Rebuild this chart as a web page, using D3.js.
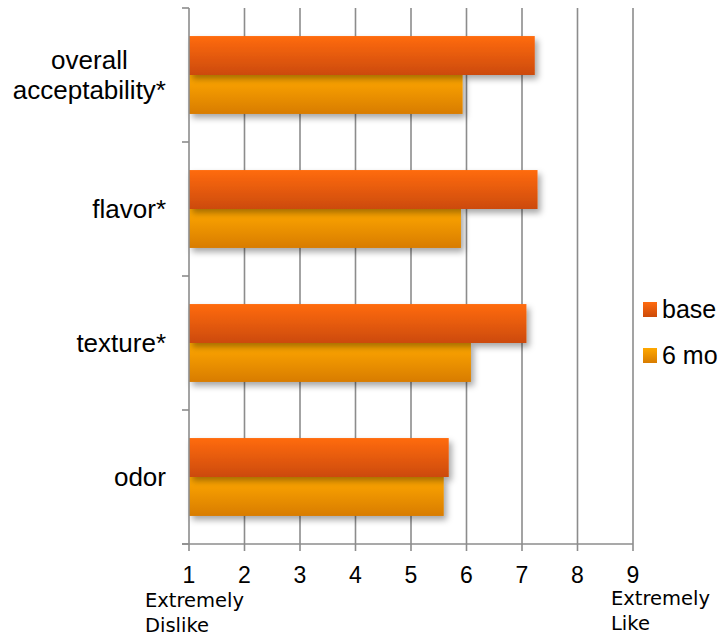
<!DOCTYPE html>
<html>
<head>
<script src="https://cdnjs.cloudflare.com/ajax/libs/d3/7.8.5/d3.min.js"></script>
<style>
  html, body { margin: 0; padding: 0; background: #fff; }
  svg { display: block; }
</style>
</head>
<body>
<div id="chart"></div>
<script>
const categories = ['overall acceptability*', 'flavor*', 'texture*', 'odor'];
const categoryLines = [['overall', 'acceptability*'], ['flavor*'], ['texture*'], ['odor']];
const seriesNames = ['base', '6 mo'];
const baseValues = [7.23, 7.28, 7.08, 5.68];
const sixMoValues = [5.93, 5.90, 6.08, 5.59];
const xTicks = [1, 2, 3, 4, 5, 6, 7, 8, 9];

const width = 720, height = 637;
const margin = { left: 189, right: 87, top: 8, bottom: 93 };
const mainFont = "Arial, 'Liberation Sans', sans-serif";

const svg = d3.select('#chart').append('svg')
    .attr('width', width)
    .attr('height', height)
    .attr('font-family', mainFont);

const defs = svg.append('defs');
const grads = [
    { id: 'gBase', top: '#ff6b10', bottom: '#cc4a08' },
    { id: 'gSix', top: '#ffa800', bottom: '#d87c00' }
];
grads.forEach(g => {
    const lg = defs.append('linearGradient').attr('id', g.id)
        .attr('x1', 0).attr('y1', 0).attr('x2', 0).attr('y2', 1);
    lg.append('stop').attr('offset', '0%').attr('stop-color', g.top);
    lg.append('stop').attr('offset', '100%').attr('stop-color', g.bottom);
});
const f = defs.append('filter').attr('id', 'shadow')
    .attr('x', '-5%').attr('y', '-20%').attr('width', '115%').attr('height', '160%');
f.append('feDropShadow').attr('dx', 3).attr('dy', 4).attr('stdDeviation', 3)
    .attr('flood-color', '#000').attr('flood-opacity', 0.35);

const x = d3.scaleLinear().domain([1, 9]).range([margin.left, width - margin.right]);
const y = d3.scaleBand().domain(categories).range([margin.top, height - margin.bottom]);
const inner = d3.scaleBand().domain(seriesNames).range([0, y.bandwidth()]).paddingOuter(0.72).paddingInner(0);

// gridlines
svg.append('g').selectAll('line')
    .data(xTicks.slice(1))
    .join('line')
    .attr('x1', d => x(d)).attr('x2', d => x(d))
    .attr('y1', margin.top).attr('y2', height - margin.bottom)
    .attr('stroke', '#8c8c8c').attr('stroke-width', 1.6);

// bars
const series = [
    { name: 'base', values: baseValues, fill: 'url(#gBase)' },
    { name: '6 mo', values: sixMoValues, fill: 'url(#gSix)' }
];
series.slice().reverse().forEach(s => {
    svg.append('g').attr('filter', 'url(#shadow)').selectAll('rect')
        .data(categories)
        .join('rect')
        .attr('x', x(1))
        .attr('y', c => y(c) + inner(s.name))
        .attr('width', (c, i) => x(s.values[i]) - x(1))
        .attr('height', inner.bandwidth())
        .attr('fill', s.fill);
});

// y axis
const yAxis = svg.append('g').attr('transform', `translate(${margin.left},0)`);
yAxis.append('line')
    .attr('x1', 0).attr('x2', 0)
    .attr('y1', margin.top).attr('y2', height - margin.bottom)
    .attr('stroke', '#8c8c8c').attr('stroke-width', 1.6);
const yTickPos = categories.map(c => y(c)).concat([height - margin.bottom]);
yAxis.selectAll('line.tk').data(yTickPos).join('line').attr('class', 'tk')
    .attr('x1', -7).attr('x2', 0).attr('y1', d => d).attr('y2', d => d)
    .attr('stroke', '#8c8c8c').attr('stroke-width', 1.6);

// category labels: multi-line ones are centred on their widest line
categories.forEach((c, i) => {
    const lines = categoryLines[i];
    const cy = y(c) + y.bandwidth() / 2;
    const t = svg.append('text')
        .attr('font-size', 26)
        .attr('fill', '#000');
    lines.forEach((l, j) => {
        t.append('tspan')
            .attr('y', cy + 9 + (j - (lines.length - 1) / 2) * 30)
            .text(l);
    });
    const right = margin.left - 23;
    if (lines.length === 1) {
        t.attr('text-anchor', 'end').selectAll('tspan').attr('x', right);
    } else {
        const widths = t.selectAll('tspan').nodes().map(n => n.getComputedTextLength());
        const cx = right - d3.max(widths) / 2;
        t.attr('text-anchor', 'middle').selectAll('tspan').attr('x', cx);
    }
});

// x axis
const xAxisY = height - margin.bottom;
const xAxis = svg.append('g');
xAxis.append('line')
    .attr('x1', margin.left - 7).attr('x2', x(9))
    .attr('y1', xAxisY).attr('y2', xAxisY)
    .attr('stroke', '#8c8c8c').attr('stroke-width', 1.6);
xAxis.selectAll('line.tk').data(xTicks).join('line').attr('class', 'tk')
    .attr('x1', d => x(d)).attr('x2', d => x(d))
    .attr('y1', xAxisY).attr('y2', xAxisY + 7)
    .attr('stroke', '#8c8c8c').attr('stroke-width', 1.6);
xAxis.selectAll('text').data(xTicks).join('text')
    .attr('x', d => x(d)).attr('y', 583)
    .attr('text-anchor', 'middle')
    .attr('font-size', 23)
    .text(d => d);

const anchorFont = "'Comic Sans MS', 'DejaVu Sans', sans-serif";
[['Extremely', 'Dislike', 145, 607, 632], ['Extremely', 'Like', 611, 605, 630]].forEach(a => {
    const t = svg.append('text').attr('font-size', 19.5).attr('font-family', anchorFont).attr('fill', '#000');
    t.append('tspan').attr('x', a[2]).attr('y', a[3]).text(a[0]);
    t.append('tspan').attr('x', a[2]).attr('y', a[4]).text(a[1]);
});

// legend (the reference crops it at the right edge)
const legend = svg.append('g');
series.forEach((s, i) => {
    const ly = 309 + i * 46;
    legend.append('rect')
        .attr('x', 643).attr('y', ly - 7).attr('width', 14).attr('height', 15)
        .attr('fill', s.fill);
    legend.append('text')
        .attr('x', 662).attr('y', ly + 9)
        .attr('font-size', 25)
        .text(s.name);
});
</script>
</body>
</html>
